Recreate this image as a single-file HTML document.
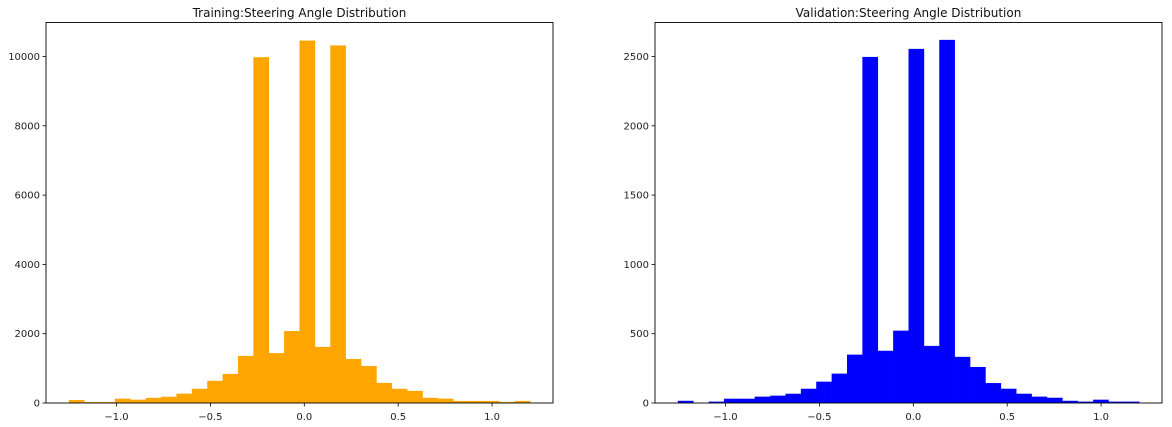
<!DOCTYPE html>
<html><head><meta charset="utf-8"><style>
html,body{margin:0;padding:0;background:#fff;width:1172px;height:427px;overflow:hidden}
svg{display:block;font-family:"DejaVu Sans","Liberation Sans",sans-serif}
</style></head><body>
<svg id="chart" width="1172" height="427" viewBox="0 0 1172 427"></svg>
<script>
const binStart = -1.254;
const binEnd = 1.203;
const trainCounts = [86,29,29,125,96,150,180,270,410,640,840,1360,9980,1440,2075,10460,1620,10320,1270,1070,580,410,350,150,125,60,60,60,29,60];
const valCounts = [16,0,10,31,31,46,53,67,103,154,212,349,2497,377,522,2555,412,2620,333,260,144,103,67,46,38,16,10,24,10,10];
const xTicks = [-1.0,-0.5,0.0,0.5,1.0];
const xTickLabels = ["\u22121.0","\u22120.5","0.0","0.5","1.0"];
const trainYTicks = [0,2000,4000,6000,8000,10000];
const valYTicks = [0,500,1000,1500,2000,2500];

const svg = document.getElementById('chart');
const NS = 'http://www.w3.org/2000/svg';
function mk(tag, attrs, parent){const e=document.createElementNS(NS,tag);for(const k in attrs)e.setAttribute(k,attrs[k]);parent.appendChild(e);return e;}

function drawPanel(cfg){
  const g = mk('g',{},svg);
  
  
  const L=cfg.left,R=cfg.right,T=22.5,B=403;
  const xScale = v => cfg.x0 + (v - 0) * cfg.pxPerUnit;
  const yScale = v => B - v * cfg.yPx;
  const n = cfg.counts.length, w = (binEnd - binStart)/n;
  cfg.counts.forEach((c,i)=>{
    const x0 = xScale(binStart + i*w), x1 = xScale(binStart + (i+1)*w);
    const r = mk('rect',{x:x0,y:yScale(c),width:x1-x0+0.3,height:B-yScale(c),fill:cfg.color},g);
    
    
  });
  const frame = mk('rect',{x:L,y:T,width:R-L,height:B-T,fill:'none',stroke:'#000','stroke-width':0.9},g);
  
  
  xTicks.forEach((t,i)=>{
    const x = xScale(t);
    mk('line',{x1:x,x2:x,y1:B,y2:B+3.5,stroke:'#000','stroke-width':0.8},g);
    const tx = mk('text',{x:x,y:B+17,'font-size':10,'text-anchor':'middle',fill:'#222'},g);
    tx.textContent = xTickLabels[i];
    
    
  });
  cfg.yTicks.forEach(t=>{
    const y = yScale(t);
    mk('line',{x1:L-3.5,x2:L,y1:y,y2:y,stroke:'#000','stroke-width':0.8},g);
    const tx = mk('text',{x:L-6,y:y+3.5,'font-size':10,'text-anchor':'end',fill:'#222'},g);
    tx.textContent = String(t);
    
    
  });
  const title = mk('text',{x:(L+R)/2,y:17,'font-size':12,'text-anchor':'middle',fill:'#111'},g);
  title.textContent = cfg.title;
  
  
}
drawPanel({name:'training-histogram',left:46,right:553,x0:304.3,pxPerUnit:187.8,yPx:0.03465,counts:trainCounts,yTicks:trainYTicks,color:'#ffa500',title:'Training:Steering Angle Distribution'});
drawPanel({name:'validation-histogram',left:655,right:1162,x0:913.3,pxPerUnit:187.8,yPx:0.1386,counts:valCounts,yTicks:valYTicks,color:'#0000ff',title:'Validation:Steering Angle Distribution'});
</script>
</body></html>
